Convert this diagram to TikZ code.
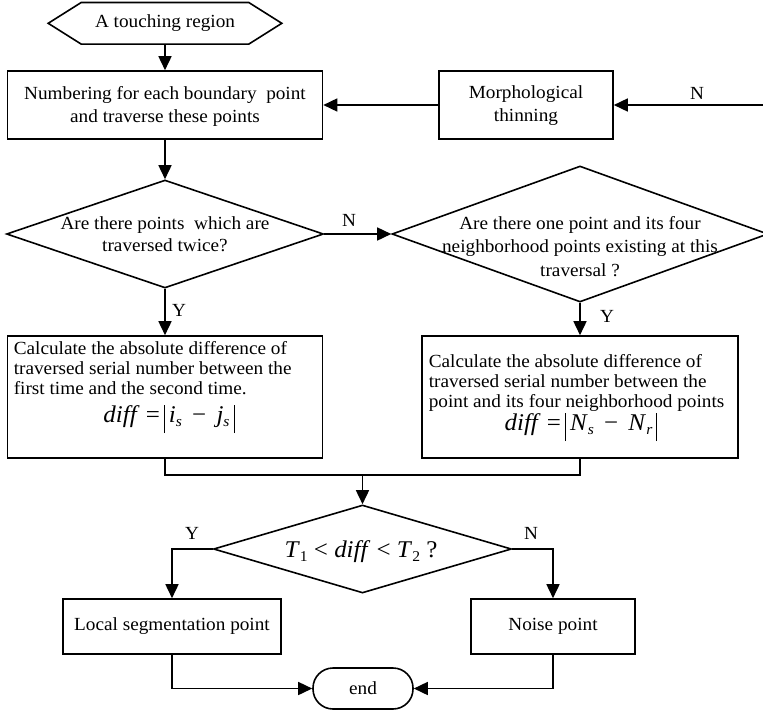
\documentclass[tikz,border=0pt]{standalone}
\usepackage{fontspec}
\setmainfont{Liberation Serif}[FakeStretch=1.04]
\usetikzlibrary{arrows.meta,shapes.geometric}
\newcommand\absbar{\rule[-11pt]{1pt}{28pt}}
\newcommand\lowsub[1]{\raisebox{-4.5pt}{\fontsize{15}{15}\selectfont #1}}
\begin{document}
\begin{tikzpicture}[x=1pt,y=-1pt,line width=1.6pt,
  box/.style={draw,rectangle,inner sep=0pt},
  dia/.style={draw,diamond,inner sep=0pt},
  arr/.style={-{Triangle[length=14pt,width=13pt]}},
  txt/.style={font=\fontsize{18.5}{23}\selectfont,align=center,inner sep=0pt},
  ltxt/.style={font=\fontsize{18.5}{18.5}\selectfont,anchor=base west,inner sep=0pt},
  frm/.style={font=\fontsize{24}{24}\selectfont,anchor=base,inner sep=0pt},
  lbl/.style={font=\fontsize{18.5}{18.5}\selectfont,inner sep=0pt}]
\useasboundingbox (0,0) rectangle (763,710);
\fill[white] (0,0) rectangle (763,710);
% start hexagon
\node[txt,minimum width=232pt,minimum height=40pt] (hex) at (165,23.3) {A touching region};
\draw (hex.west) -- ([xshift=33pt]hex.north west) -- ([xshift=-33pt]hex.north east)
  -- (hex.east) -- ([xshift=-33pt]hex.south east) -- ([xshift=33pt]hex.south west) -- cycle;
% first row
\node[box,minimum width=315pt,minimum height=68pt] (b1) at (165,105) {};
\node[txt] (b1t) at (165,106) {Numbering for each boundary~ point\\and traverse these points};
\node[box,minimum width=174pt,minimum height=68pt] (mt) at (526,105) {};
\node[txt] (mtt) at (526,106) {Morphological\\thinning};
\coordinate (rin) at (763,105);
% diamonds
\node[dia,minimum width=317pt,minimum height=108pt] (d1) at (165,234) {};
\node[txt,font=\fontsize{18.5}{22}\selectfont] (d1t) at (165,234) {Are there points~ which are\\traversed twice?};
\node[dia,minimum width=376pt,minimum height=136pt] (d2) at (580,234) {};
\node[txt,font=\fontsize{18.5}{23.3}\selectfont] (d2t) at (580,246.5) {Are there one point and its four\\neighborhood points existing at this\\traversal ?};
% calculation boxes
\node[box,minimum width=315pt,minimum height=122pt] (b2) at (165,397) {};
\node[ltxt] (b2a) at (13,354) {Calculate the absolute difference of};
\node[ltxt] (b2b) at (13,374) {traversed serial number between the};
\node[ltxt] (b2c) at (13,394) {first time and the second time.};
\node[frm] (b2f) at (169,422) {\textit{diff} =\,\absbar\,\textit{i}\lowsub{\textit{s}}\, − \,\textit{j}\lowsub{\textit{s}}\,\absbar};
\node[box,minimum width=316pt,minimum height=122pt] (b3) at (580,397) {};
\node[ltxt] (b3a) at (428,367) {Calculate the absolute difference of};
\node[ltxt] (b3b) at (428,387) {traversed serial number between the};
\node[ltxt] (b3c) at (428,407) {point and its four neighborhood points};
\node[frm] (b3f) at (581,430) {\textit{diff} =\,\absbar\,\textit{N}\lowsub{\textit{s}}\, − \,\textit{N}\lowsub{\textit{r}}\,\absbar};
\coordinate (j) at (362.5,475);
% decision 3
\node[dia,minimum width=298pt,minimum height=88pt] (d3) at (362.5,549) {};
\node[frm,font=\fontsize{24}{24}\selectfont] (d3t) at (361,557) {\textit{T}\lowsub{1} < \textit{diff} < \textit{T}\lowsub{2} ?};
\node[box,minimum width=218pt,minimum height=55pt] (b4) at (172,626.5) {};
\node[txt] (b4t) at (b4) {Local segmentation point};
\node[box,minimum width=164pt,minimum height=55pt] (b5) at (553,626.5) {};
\node[txt] (b5t) at (b5) {Noise point};
\node[draw,rounded corners=20pt,minimum width=100pt,minimum height=41pt,inner sep=0pt,font=\fontsize{18.5}{18.5}\selectfont] (end) at (363,688.5) {end};
% connectors
\draw[arr] (hex.south) -- (b1.north);
\draw[arr] (mt.west) -- (b1.east);
\draw[arr] (rin) -- (mt.east);
\draw[arr] (b1.south) -- (d1.north);
\draw[arr] (d1.east) -- (d2.west);
\draw[arr] (d1.south) -- (b2.north);
\draw[arr] (d2.south) -- (b3.north);
\draw (b2.south) |- (j) -| (b3.south);
\draw[arr] (j) -- (d3.north);
\draw[arr] (d3.west) -| (b4.north);
\draw[arr] (d3.east) -| (b5.north);
\draw[arr] (b4.south) |- (end.west);
\draw[arr] (b5.south) |- (end.east);
% labels
\node[lbl] (n1) at (697,93) {N};
\node[lbl] (n2) at (349,220) {N};
\node[lbl] (y1) at (179,310) {Y};
\node[lbl] (y2) at (607,316) {Y};
\node[lbl] (y3) at (192,533) {Y};
\node[lbl] (n3) at (531,533) {N};
\end{tikzpicture}
\end{document}
